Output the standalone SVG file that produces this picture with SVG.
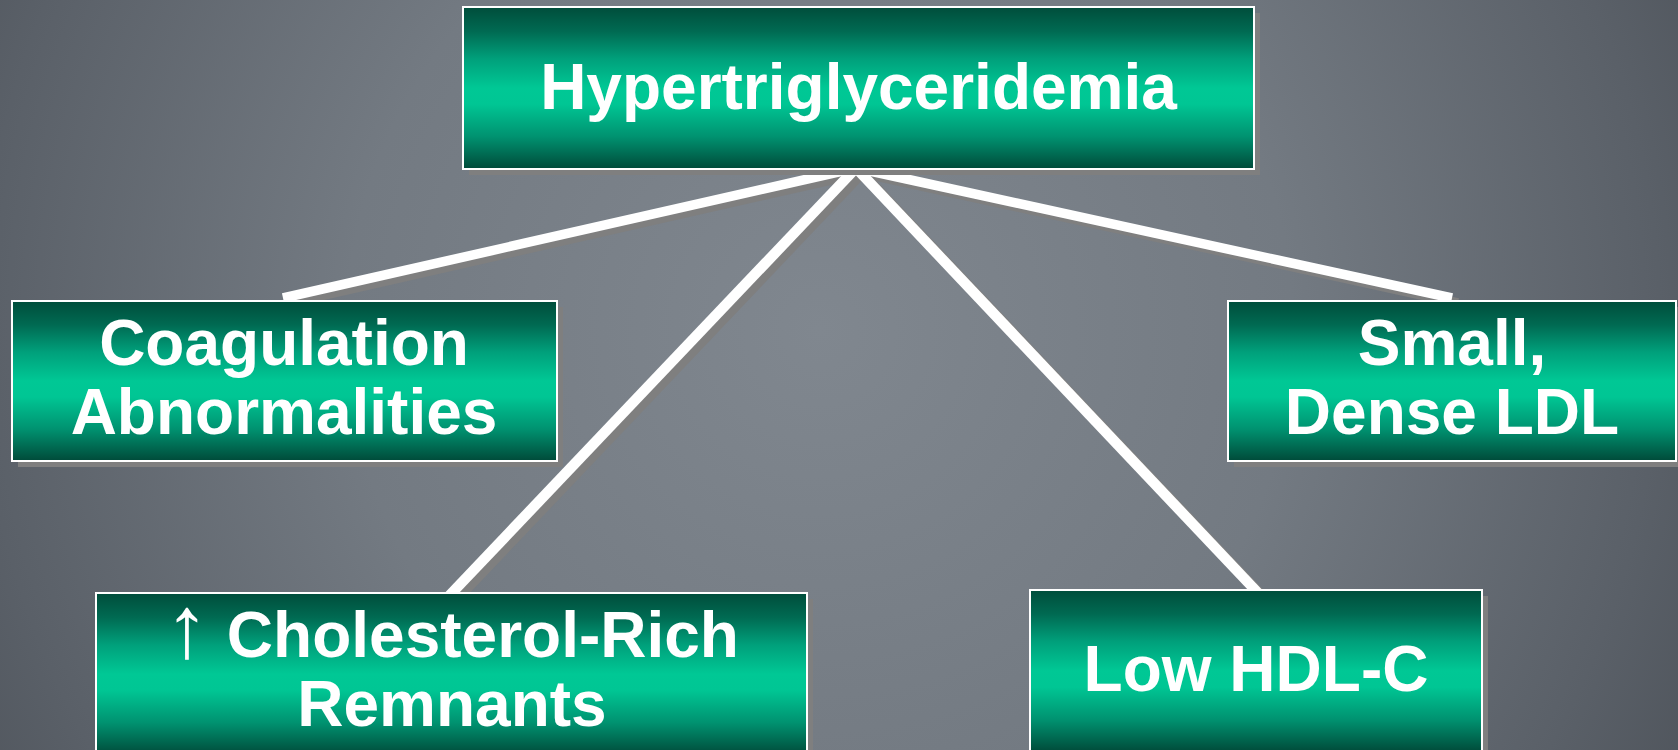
<svg xmlns="http://www.w3.org/2000/svg" width="1678" height="750" viewBox="0 0 1678 750">
<defs>
<radialGradient id="bg" cx="820" cy="330" r="1050" gradientUnits="userSpaceOnUse">
<stop offset="0" stop-color="#80878f"/>
<stop offset="0.45" stop-color="#737a82"/>
<stop offset="0.8" stop-color="#5a6068"/>
<stop offset="1" stop-color="#4a4f56"/>
</radialGradient>
<linearGradient id="box" x1="0" y1="0" x2="0" y2="1">
<stop offset="0" stop-color="#004d3b"/>
<stop offset="0.15" stop-color="#006a52"/>
<stop offset="0.32" stop-color="#00a07b"/>
<stop offset="0.5" stop-color="#00c895"/>
<stop offset="0.6" stop-color="#00c694"/>
<stop offset="0.8" stop-color="#009270"/>
<stop offset="1" stop-color="#004a39"/>
</linearGradient>
<style>
.shadow{fill:#7f7f7f}
.box{fill:url(#box);stroke:#ffffff;stroke-width:2}
.lbl{font-family:"Liberation Sans",Arial,sans-serif;font-weight:bold;font-size:64px;fill:#ffffff;text-anchor:middle}
.arrow{font-weight:normal;font-size:88px}
.ln{stroke:#ffffff;fill:none}
.lns{stroke:#7f7f7f;fill:none}
</style>
</defs>
<rect x="0" y="0" width="1678" height="750" fill="url(#bg)"/>
<g id="connectors">
<g transform="translate(6,5)">
<line class="lns" x1="856" y1="168" x2="283" y2="298" stroke-width="9.5"/>
<line class="lns" x1="856" y1="168" x2="1452" y2="298" stroke-width="9.5"/>
<line class="lns" x1="856" y1="168" x2="448" y2="597" stroke-width="10.5"/>
<line class="lns" x1="856" y1="168" x2="1259" y2="594" stroke-width="10.5"/>
</g>
<line class="ln" x1="856" y1="168" x2="283" y2="298" stroke-width="9.5"/>
<line class="ln" x1="856" y1="168" x2="1452" y2="298" stroke-width="9.5"/>
<line class="ln" x1="856" y1="168" x2="448" y2="597" stroke-width="10.5"/>
<line class="ln" x1="856" y1="168" x2="1259" y2="594" stroke-width="10.5"/>
</g>
<g id="hypertriglyceridemia">
<rect class="shadow" x="469" y="13" width="791" height="162"/>
<rect class="box" x="463" y="7" width="791" height="162"/>
<text class="lbl" x="858.5" y="109">Hypertriglyceridemia</text>
</g>
<g id="coagulation">
<rect class="shadow" x="18" y="307" width="545" height="160"/>
<rect class="box" x="12" y="301" width="545" height="160"/>
<text class="lbl" x="284" y="365">Coagulation</text>
<text class="lbl" x="284" y="434">Abnormalities</text>
</g>
<g id="small-dense-ldl">
<rect class="shadow" x="1234" y="307" width="448" height="160"/>
<rect class="box" x="1228" y="301" width="448" height="160"/>
<text class="lbl" x="1452" y="365">Small,</text>
<text class="lbl" x="1452" y="434">Dense LDL</text>
</g>
<g id="remnants">
<rect class="shadow" x="102" y="599" width="711" height="162"/>
<rect class="box" x="96" y="593" width="711" height="162"/>
<text class="lbl" x="452" y="657"><tspan class="arrow">↑</tspan> Cholesterol-Rich</text>
<text class="lbl" x="452" y="726">Remnants</text>
</g>
<g id="low-hdl">
<rect class="shadow" x="1036" y="596" width="452" height="162"/>
<rect class="box" x="1030" y="590" width="452" height="162"/>
<text class="lbl" x="1256" y="691">Low HDL-C</text>
</g>
</svg>
